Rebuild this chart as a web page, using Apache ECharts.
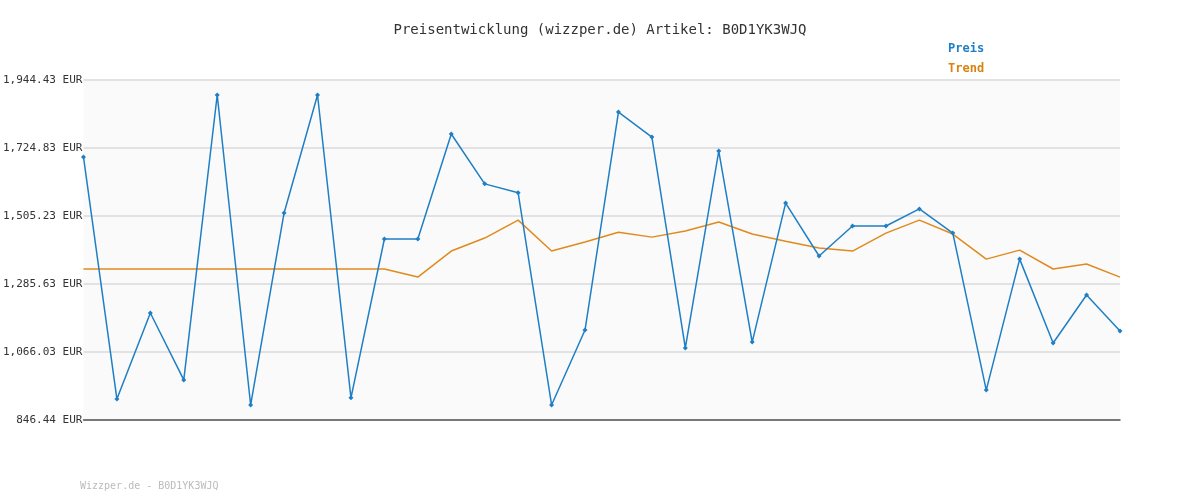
<!DOCTYPE html>
<html><head><meta charset="utf-8">
<script src="https://cdn.jsdelivr.net/npm/echarts@6/dist/echarts.min.js"></script>
<style>html,body{margin:0;padding:0;background:#fff}#c{width:1200px;height:500px}</style>
</head><body><div id="c"></div>
<script>
const categories = Array.from({length:32},(_, i)=>String(i+1));
const preis = [1696,914,1192,976,1896,895,1515,1896,918,1431,1431,1770,1609,1580,895,1137,1841,1760,1079,1715,1098,1547,1376,1473,1473,1528,1450,943,1366,1095,1250,1134];
const trend = [1334,1334,1334,1334,1334,1334,1334,1334,1334,1334,1308,1392,1434,1492,1392,1421,1453,1437,1457,1486,1447,1424,1402,1392,1450,1492,1447,1366,1395,1334,1350,1308];
const yMin = 846.44, yInterval = 219.598, yMax = 1944.43;
const chart = echarts.init(document.getElementById('c'));
const mono = 'DejaVu Sans Mono';
chart.setOption({
  animation:false,
  backgroundColor:'#fff',
  title:{text:'Preisentwicklung (wizzper.de) Artikel: B0D1YK3WJQ',left:'center',top:18,textStyle:{fontFamily:mono,fontSize:14,fontWeight:'normal',color:'#333'}},
  legend:{orient:'vertical',left:938,top:38,itemWidth:0,itemHeight:0,icon:'none',itemGap:8,
    data:[{name:'Preis',textStyle:{color:'#1f7fc4'}},{name:'Trend',textStyle:{color:'#d9820f'}}],
    textStyle:{fontFamily:mono,fontSize:12,fontWeight:'bold'}},
  graphic:[{type:'text',left:80,top:481,style:{text:'Wizzper.de - B0D1YK3WJQ',fill:'#bbb',font:'10px "DejaVu Sans Mono"'}}],
  grid:{left:80,right:80,top:80,bottom:80,show:true,backgroundColor:'#fafafa',borderWidth:0},
  xAxis:{type:'category',data:categories,boundaryGap:false,axisLabel:{show:false},axisTick:{show:false},
    axisLine:{lineStyle:{color:'#555',width:1.5}},splitLine:{show:false}},
  yAxis:{type:'value',min:yMin,max:yMax,interval:yInterval,
    axisLabel:{fontFamily:mono,fontSize:11,color:'#333',margin:1,
      formatter:v=>(Math.floor(v*100+1e-4)/100).toLocaleString('en-US',{minimumFractionDigits:2,maximumFractionDigits:2})+' EUR'},
    axisLine:{show:false},axisTick:{show:false},splitLine:{lineStyle:{color:'#e2e2e2',width:2}}},
  series:[
    {name:'Preis',type:'line',data:preis,color:'#1f7fc4',symbol:'diamond',symbolSize:5,lineStyle:{width:1.5},z:3},
    {name:'Trend',type:'line',data:trend,color:'#e08a1e',symbol:'none',lineStyle:{width:1.5},z:2}
  ]
});
</script></body></html>
